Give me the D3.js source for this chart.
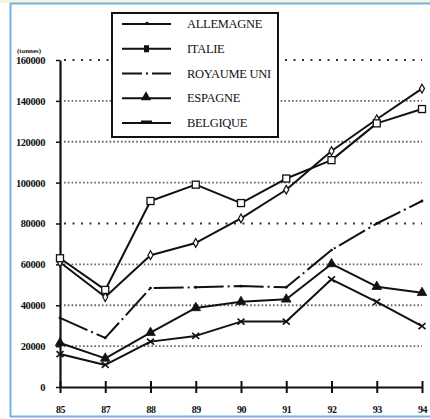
<!DOCTYPE html>
<html>
<head>
<meta charset="utf-8">
<script src="https://cdn.jsdelivr.net/npm/d3@7"></script>
<style>
  html, body { margin: 0; padding: 0; background: #fff; }
  svg { display: block; }
  text { font-family: "Liberation Serif", "DejaVu Serif", serif; fill: #111; }
</style>
</head>
<body>
<svg id="chart" width="430" height="419"></svg>
<script>
// Years on the horizontal axis
const years = ["85", "87", "88", "89", "90", "91", "92", "93", "94"];

// Tonnages per country
const allemagne  = [61000, 44000, 64500, 70500, 82500, 96500, 115500, 131000, 146000];
const italie     = [63000, 47500, 91000, 99000, 90000, 102000, 111000, 129000, 136000];
const royaumeUni = [33800, 24000, 48400, 48800, 49400, 48800, 67000, 80000, 91000];
const espagne    = [21500, 14000, 26600, 38700, 41700, 42900, 60200, 49100, 46100];
const belgique   = [16100, 10800, 22200, 25000, 32000, 32000, 52700, 41700, 29800];

const seriesNames = ["ALLEMAGNE", "ITALIE", "ROYAUME UNI", "ESPAGNE", "BELGIQUE"];
const yTicks = [0, 20000, 40000, 60000, 80000, 100000, 120000, 140000, 160000];

const series = [
  { name: seriesNames[0], values: allemagne,  marker: "dot",      dash: null },
  { name: seriesNames[1], values: italie,     marker: "square",   dash: null },
  { name: seriesNames[2], values: royaumeUni, marker: "tick",     dash: "30,4,2,4" },
  { name: seriesNames[3], values: espagne,    marker: "triangle", dash: null },
  { name: seriesNames[4], values: belgique,   marker: "cross",    dash: null }
];

const svg = d3.select("#chart");

// Light frame around the figure
svg.append("rect").attr("x", 0).attr("y", 0).attr("width", 430).attr("height", 3)
  .attr("fill", "#f7f2dc");
svg.append("line").attr("x1", 10).attr("x2", 430).attr("y1", 3.5).attr("y2", 3.5)
  .attr("stroke", "#6fb6e6").attr("stroke-width", 2);
svg.append("line").attr("x1", 10.5).attr("x2", 10.5).attr("y1", 3).attr("y2", 417)
  .attr("stroke", "#6fb6e6").attr("stroke-width", 2);
svg.append("line").attr("x1", 10).attr("x2", 430).attr("y1", 416.5).attr("y2", 416.5)
  .attr("stroke", "#6fb6e6").attr("stroke-width", 2);

const x = d3.scalePoint().domain(years).range([60, 422]);
const y = d3.scaleLinear().domain([0, 160000]).range([387, 60]);

// Dotted gridlines: coarse dots on 80000 and 160000, fine dots elsewhere
const grid = svg.append("g");
yTicks.filter(v => v > 0).forEach(v => {
  const coarse = (v === 80000 || v === 160000);
  grid.append("line")
    .attr("x1", 64).attr("x2", 422)
    .attr("y1", y(v)).attr("y2", y(v))
    .attr("stroke", coarse ? "#333" : "#666")
    .attr("stroke-width", coarse ? 2.2 : 1.8)
    .attr("stroke-dasharray", coarse ? "2,6.5" : "1.6,2.2");
});

// Y axis
const yAxis = d3.axisLeft(y).tickValues(yTicks).tickSize(4).tickSizeOuter(0).tickFormat(d3.format("d"));
const gy = svg.append("g").attr("transform", "translate(60,0)").call(yAxis);
gy.select(".domain").attr("stroke", "#111").attr("stroke-width", 2.2);
gy.selectAll(".tick line").attr("stroke", "#111").attr("stroke-width", 1.5);
gy.selectAll(".tick text")
  .attr("x", -15)
  .style("font-family", "'Liberation Serif', serif")
  .style("font-size", "10.5px")
  .style("font-weight", "bold")
  .style("letter-spacing", "-0.4px")
  .attr("fill", "#111");

svg.append("text").attr("x", 17).attr("y", 53)
  .style("font-size", "7px").style("font-weight", "bold").text("(tonnes)");

// X axis with ticks crossing the line
const xAxis = d3.axisBottom(x).tickSize(0).tickSizeOuter(0).tickPadding(19);
const gx = svg.append("g").attr("transform", "translate(0,387)").call(xAxis);
gx.select(".domain").attr("stroke", "#111").attr("stroke-width", 2.2);
gx.selectAll(".tick text")
  .style("font-family", "'Liberation Serif', serif")
  .style("font-size", "10px")
  .style("font-weight", "bold")
  .style("letter-spacing", "-0.6px")
  .attr("fill", "#111");
gx.selectAll(".tick").append("line")
  .attr("y1", -6).attr("y2", 6)
  .attr("stroke", "#111").attr("stroke-width", 2);

// Marker drawing
function drawMarker(g, type, cx, cy) {
  if (type === "dot") {
    g.append("path").attr("d", d3.symbol(d3.symbolDiamond, 22)())
      .attr("transform", `translate(${cx},${cy})`)
      .attr("fill", "#fff").attr("stroke", "#111").attr("stroke-width", 1.2);
  } else if (type === "square") {
    g.append("rect").attr("x", cx - 3.5).attr("y", cy - 3.5)
      .attr("width", 7).attr("height", 7)
      .attr("fill", "#fff").attr("stroke", "#111").attr("stroke-width", 1.3);
  } else if (type === "tick") {
    g.append("circle").attr("cx", cx).attr("cy", cy).attr("r", 1.4).attr("fill", "#111");
  } else if (type === "triangle") {
    g.append("path").attr("d", d3.symbol(d3.symbolTriangle, 40)())
      .attr("transform", `translate(${cx},${cy})`)
      .attr("fill", "#111").attr("stroke", "#111").attr("stroke-width", 0.8);
  } else if (type === "cross") {
    g.append("path")
      .attr("d", `M${cx - 3.5},${cy - 3}L${cx + 3.5},${cy + 3}M${cx - 3.5},${cy + 3}L${cx + 3.5},${cy - 3}`)
      .attr("stroke", "#111").attr("stroke-width", 1.6).attr("fill", "none");
  }
}

// Series lines
const line = d3.line().x((d, i) => x(years[i])).y(d => y(d));
const lines = svg.append("g");
series.forEach(s => {
  lines.append("path")
    .datum(s.values)
    .attr("d", line)
    .attr("fill", "none")
    .attr("stroke", "#111")
    .attr("stroke-width", 2)
    .attr("stroke-linejoin", "round")
    .attr("stroke-dasharray", s.dash);
  s.values.forEach((v, i) => drawMarker(lines, s.marker, x(years[i]), y(v)));
});

// Legend box
const legend = svg.append("g");
legend.append("rect").attr("x", 112).attr("y", 13).attr("width", 166).attr("height", 124)
  .attr("fill", "#fff").attr("stroke", "#111").attr("stroke-width", 2);
const rowY = d3.scalePoint().domain(seriesNames).range([24, 123]);
series.forEach(s => {
  const ly = rowY(s.name);
  legend.append("line").attr("x1", 122).attr("x2", 171).attr("y1", ly).attr("y2", ly)
    .attr("stroke", "#111").attr("stroke-width", 1.8)
    .attr("stroke-dasharray", s.dash ? "20,4,2,4" : null);
  if (s.marker === "dot") {
    legend.append("circle").attr("cx", 147).attr("cy", ly - 0.5).attr("r", 1.8).attr("fill", "#111");
  } else if (s.marker === "square") {
    legend.append("rect").attr("x", 144).attr("y", ly - 3.5).attr("width", 5).attr("height", 7).attr("fill", "#111");
  } else if (s.marker === "triangle") {
    legend.append("path").attr("d", d3.symbol(d3.symbolTriangle, 45)())
      .attr("transform", `translate(146,${ly - 1})`).attr("fill", "#111");
  } else if (s.marker === "cross") {
    legend.append("path").attr("d", `M141,${ly - 1.5}L152,${ly - 1.5}`)
      .attr("stroke", "#111").attr("stroke-width", 2);
  }
  legend.append("text").attr("x", 187).attr("y", ly + 4)
    .style("font-size", "12.5px").style("letter-spacing", "-0.3px")
    .text(s.name);
});
</script>
</body>
</html>
